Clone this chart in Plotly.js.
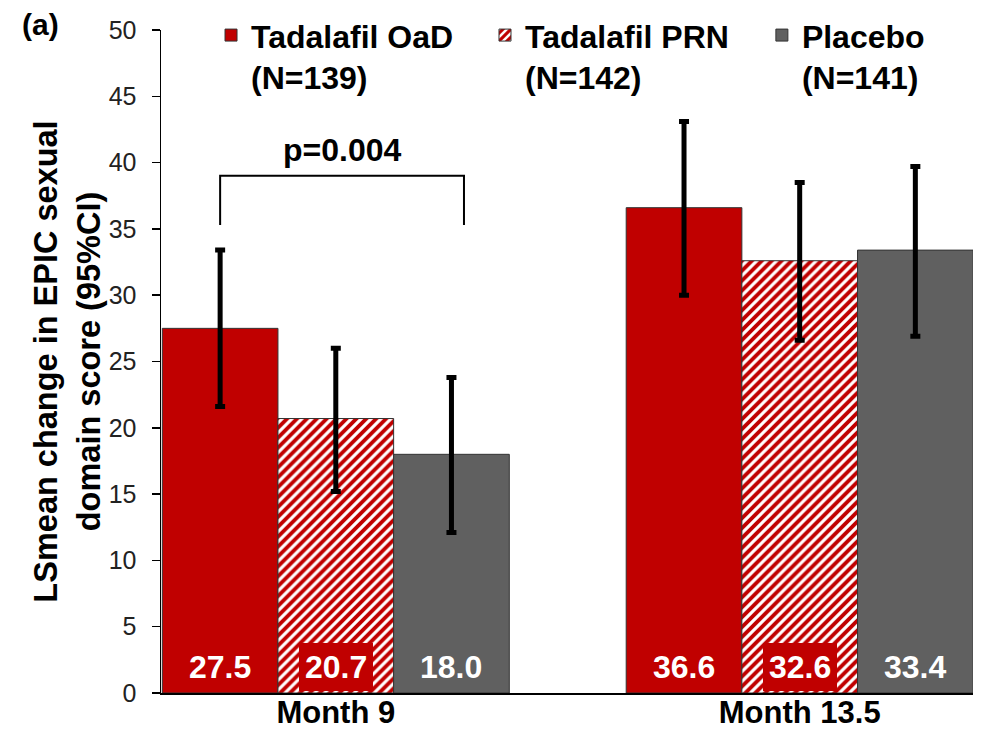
<!DOCTYPE html>
<html><head><meta charset="utf-8">
<script src="https://cdn.plot.ly/plotly-3.0.1.min.js"></script>
<style>html,body{margin:0;padding:0;background:#fff}#chart{width:981px;height:731px}</style>
</head><body><div id="chart"></div>
<script>
// ---- data ----
const categories = ['Month 9', 'Month 13.5'];
const seriesNames = ['Tadalafil OaD<br>(N=139)', 'Tadalafil PRN<br>(N=142)', 'Placebo<br>(N=141)'];
const oadMean = [27.5, 36.6];
const oadLower = [21.6, 30.0];
const oadUpper = [33.4, 43.1];
const prnMean = [20.7, 32.6];
const prnLower = [15.2, 26.6];
const prnUpper = [26.0, 38.5];
const placeboMean = [18.0, 33.4];
const placeboLower = [12.1, 26.9];
const placeboUpper = [23.8, 39.7];
const pValueText = 'p=0.004';
const panelLabel = '(a)';
const yTitle = 'LSmean change in EPIC sexual<br>domain score (95%CI)';

// ---- style ----
const RED = '#c00000', GREY = '#606060';
const FONT = 'Liberation Sans, Arial, Helvetica, sans-serif';
const BARGAP = 0.252;
const barW = (1 - BARGAP) / 3;

const means = [oadMean, prnMean, placeboMean];
const lowers = [oadLower, prnLower, placeboLower];
const uppers = [oadUpper, prnUpper, placeboUpper];

function errBar(i) {
  return {
    type: 'data', symmetric: false,
    array: means[i].map((m, k) => uppers[i][k] - m),
    arrayminus: means[i].map((m, k) => m - lowers[i][k]),
    color: '#000', thickness: 5, width: 5
  };
}

const traces = [
  {type: 'bar', name: seriesNames[0], x: categories, y: oadMean, legend: 'legend',
   marker: {color: RED, line: {color: '#333', width: 1}}, error_y: errBar(0)},
  {type: 'bar', name: seriesNames[1], x: categories, y: prnMean, legend: 'legend2',
   marker: {color: '#ffffff', line: {color: '#333', width: 1},
            pattern: {shape: '/', fgcolor: RED, bgcolor: '#ffffff', size: 7, solidity: 0.55}},
   error_y: errBar(1)},
  {type: 'bar', name: seriesNames[2], x: categories, y: placeboMean, legend: 'legend3',
   marker: {color: GREY, line: {color: '#333', width: 1}}, error_y: errBar(2)}
];

const labelBg = [RED, RED, GREY];
const annotations = [];
means.forEach((arr, i) => {
  arr.forEach((v, k) => {
    annotations.push({
      x: k + (i - 1) * barW, y: 0, xref: 'x', yref: 'y',
      text: v.toFixed(1), showarrow: false,
      xanchor: 'center', yanchor: 'bottom', yshift: 2,
      bgcolor: labelBg[i], borderpad: 6, borderwidth: 0,
      font: {family: FONT, size: 32, color: '#ffffff', weight: 'bold'}
    });
  });
});

// bracket between OaD and Placebo at Month 9
const bxL = 0 - barW, bxR = 0 + barW + 0.027;
const bTop = 39.0, bBot = 35.3;
annotations.push({
  x: (bxL + bxR) / 2, y: bTop, xref: 'x', yref: 'y', text: pValueText, showarrow: false,
  yanchor: 'bottom', yshift: 6, font: {family: FONT, size: 32, color: '#000', weight: 'bold'}
});
annotations.push({
  x: -0.148, y: 1.009, xref: 'paper', yref: 'paper', text: panelLabel, showarrow: false,
  xanchor: 'center', yanchor: 'middle', font: {family: FONT, size: 30, color: '#000', weight: 'bold'}
});

const shapes = [{
  type: 'path', xref: 'x', yref: 'y',
  path: `M ${bxL} ${bBot} L ${bxL} ${bTop} L ${bxR} ${bTop} L ${bxR} ${bBot}`,
  line: {color: '#000', width: 2}
}];

function legendAt(x) {
  return {orientation: 'v', x: x, xanchor: 'left', y: 1.0335, yanchor: 'top',
          valign: 'top', bgcolor: 'rgba(0,0,0,0)',
          font: {family: FONT, size: 32, color: '#000', weight: 'bold'}};
}

const layout = {
  width: 981, height: 731,
  margin: {l: 161, r: 8, t: 28, b: 38},
  paper_bgcolor: '#fff', plot_bgcolor: '#fff',
  barmode: 'group', bargap: BARGAP, bargroupgap: 0,
  font: {family: FONT, color: '#000'},
  showlegend: true,
  legend: legendAt(0.0616),
  legend2: legendAt(0.399),
  legend3: legendAt(0.740),
  xaxis: {type: 'category', range: [-0.3768, 1.3736], showline: true, linecolor: '#000', linewidth: 1.5,
          ticks: '', showgrid: false, zeroline: false, ticklabelstandoff: -9,
          tickfont: {family: FONT, size: 31, color: '#000', weight: 'bold'}},
  yaxis: {range: [0, 50], dtick: 5, tick0: 0, showline: true, linecolor: '#000', linewidth: 1.5,
          ticks: 'outside', ticklen: 8, tickwidth: 1.5, tickcolor: '#000', showgrid: false, zeroline: false,
          ticklabelstandoff: 10,
          tickfont: {family: FONT, size: 25, color: '#222'},
          title: {text: yTitle, font: {family: FONT, size: 32.5, color: '#000', weight: 'bold'}}},
  annotations: annotations,
  shapes: shapes
};

Plotly.newPlot('chart', traces, layout, {displayModeBar: false, staticPlot: true});
</script>
</body></html>
